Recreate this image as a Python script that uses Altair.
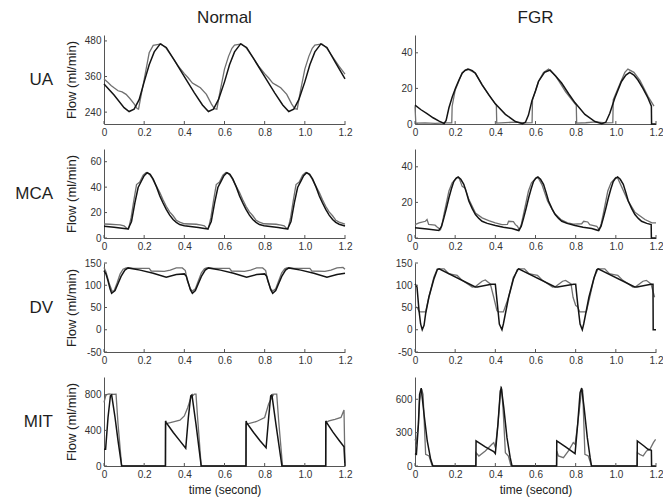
import altair as alt
import pandas as pd

FONT = "Liberation Sans"
BLACK = "#141414"
GRAY = "#707070"
AXIS = "#555555"
W, H = 241, 89

X_TICKS = [0, 0.2, 0.4, 0.6, 0.8, 1.0, 1.2]

# ---------------- UA ----------------
UA_N_BLACK_T = [0, 0.05, 0.10, 0.125, 0.15, 0.175, 0.20, 0.225, 0.25, 0.28, 0.31, 0.35, 0.40, 0.45, 0.49, 0.52,
                0.545, 0.57, 0.60, 0.625, 0.65, 0.68, 0.71, 0.75, 0.80, 0.85, 0.89, 0.92,
                0.945, 0.97, 1.00, 1.025, 1.05, 1.08, 1.11, 1.15, 1.20]
UA_N_BLACK_V = [335, 298, 255, 242, 250, 282, 342, 400, 443, 470, 458, 415, 360, 305, 264, 242,
                250, 282, 342, 400, 443, 470, 458, 415, 360, 305, 264, 242,
                250, 282, 342, 400, 443, 470, 458, 410, 352]
UA_N_GRAY_T = [0, 0.02, 0.035, 0.05, 0.07, 0.09, 0.11, 0.13, 0.15, 0.165, 0.172, 0.18, 0.20, 0.225, 0.245, 0.285,
               0.31, 0.34, 0.37, 0.40, 0.42, 0.44, 0.46, 0.48, 0.51, 0.535, 0.55, 0.562, 0.575, 0.60, 0.62, 0.637, 0.65, 0.685,
               0.71, 0.74, 0.77, 0.80, 0.82, 0.84, 0.86, 0.88, 0.91, 0.935, 0.95, 0.962, 0.975, 1.00, 1.02, 1.037, 1.05, 1.085,
               1.11, 1.14, 1.17, 1.20]
UA_N_GRAY_V = [352, 340, 330, 322, 312, 308, 300, 285, 268, 252, 250, 280, 350, 440, 465, 470,
               455, 425, 395, 370, 355, 338, 330, 322, 300, 267, 252, 250, 300, 385, 428, 455, 466, 470,
               455, 425, 395, 370, 355, 338, 330, 322, 300, 267, 252, 250, 300, 385, 428, 455, 466, 470,
               455, 425, 395, 368]

UA_F_BLACK_T = [0, 0.03, 0.06, 0.09, 0.12, 0.145, 0.155, 0.169, 0.185, 0.202, 0.22, 0.235, 0.25, 0.268, 0.285, 0.301,
                0.334, 0.367, 0.40, 0.45, 0.50, 0.535, 0.55, 0.565, 0.582, 0.60, 0.615, 0.645, 0.673, 0.70, 0.73,
                0.765, 0.797, 0.846, 0.896, 0.93, 0.95, 0.97, 0.995, 1.028, 1.05, 1.069, 1.09, 1.11, 1.135, 1.16,
                1.177, 1.178, 1.20]
UA_F_BLACK_V = [10.6, 8.0, 5.8, 3.5, 1.6, 0.3, 2.0, 9.1, 15.0, 20.2, 25.0, 28.5, 30.2, 30.8, 30.0, 28.5,
                22.0, 16.5, 11.3, 5.4, 1.4, 0.2, 1.0, 5.0, 13.0, 18.5, 23.9, 29.0, 30.3, 27.0, 23.0,
                17.0, 11.9, 5.4, 1.4, 0.2, 1.0, 6.0, 14.6, 23.9, 27.5, 29.0, 27.5, 24.7, 20.0, 14.6,
                10.0, 0.0, 0.0]
UA_F_GRAY_T = [0, 0.004, 0.05, 0.10, 0.15, 0.183, 0.185, 0.20, 0.235, 0.262, 0.30, 0.335, 0.37, 0.405, 0.407,
               0.45, 0.50, 0.55, 0.583, 0.585, 0.615, 0.64, 0.665, 0.70, 0.75, 0.803, 0.805, 0.85, 0.90, 0.95,
               0.985, 0.987, 1.02, 1.045, 1.06, 1.09, 1.12, 1.16, 1.19]
UA_F_GRAY_V = [10.0, 0.5, 0.6, 0.4, 0.6, 0.6, 10.0, 19.0, 28.8, 31.0, 28.5, 22.0, 16.0, 10.5, 0.5,
               0.8, 1.0, 0.6, 0.8, 13.5, 24.0, 29.0, 30.8, 27.0, 18.0, 10.5, 0.5, 0.7, 1.2, 0.6,
               0.8, 13.5, 22.5, 29.0, 30.8, 29.0, 24.5, 15.5, 10.0]

# ---------------- MCA ----------------
MCA_N_BLACK_T = [0, 0.05, 0.10, 0.12, 0.137, 0.154, 0.17, 0.187, 0.20, 0.215, 0.23, 0.245, 0.262, 0.278, 0.294, 0.31,
                 0.327, 0.344, 0.36, 0.377, 0.40, 0.43, 0.47, 0.50, 0.517,
                 0.534, 0.551, 0.567, 0.584, 0.597, 0.612, 0.627, 0.642, 0.659, 0.675, 0.691, 0.707, 0.724, 0.741,
                 0.757, 0.774, 0.797, 0.827, 0.867, 0.897, 0.914,
                 0.931, 0.948, 0.964, 0.981, 0.994, 1.009, 1.024, 1.039, 1.056, 1.072, 1.088, 1.104, 1.121, 1.138,
                 1.154, 1.171, 1.20]
MCA_N_BLACK_V = [9.3, 8.5, 7.5, 7.1, 13.0, 27.8, 39.7, 45.0, 49.0, 51.3, 50.0, 46.3, 40.0, 33.0, 27.5, 22.5,
                 18.0, 14.6, 12.3, 10.6, 9.7, 9.0, 8.2, 7.5, 7.1,
                 13.0, 27.8, 39.7, 45.0, 49.0, 51.3, 50.0, 46.3, 40.0, 33.0, 27.5, 22.5, 18.0, 14.6,
                 12.3, 10.6, 9.7, 9.0, 8.2, 7.5, 7.1,
                 13.0, 27.8, 39.7, 45.0, 49.0, 51.3, 50.0, 46.3, 40.0, 33.0, 27.5, 22.5, 18.0, 14.6,
                 12.3, 10.8, 9.4]
MCA_N_GRAY_T = [0, 0.03, 0.06, 0.08, 0.10, 0.115, 0.122, 0.135, 0.148, 0.162, 0.178, 0.195, 0.21, 0.225, 0.24, 0.26,
                0.278, 0.294, 0.31, 0.327, 0.344, 0.36, 0.377, 0.40, 0.43, 0.46, 0.485, 0.50, 0.512, 0.519,
                0.532, 0.545, 0.559, 0.575, 0.592, 0.607, 0.622, 0.637, 0.657, 0.675, 0.691, 0.707, 0.724, 0.741,
                0.757, 0.774, 0.797, 0.827, 0.857, 0.882, 0.897, 0.909, 0.916,
                0.929, 0.942, 0.956, 0.972, 0.989, 1.004, 1.019, 1.034, 1.054, 1.072, 1.088, 1.104, 1.121, 1.138,
                1.154, 1.171, 1.20]
MCA_N_GRAY_V = [11.0, 10.8, 10.5, 10.3, 9.5, 7.5, 7.0, 16.0, 29.0, 42.0, 44.0, 49.5, 51.6, 50.5, 47.0, 41.0,
                35.7, 30.0, 25.0, 20.5, 17.5, 14.0, 12.5, 11.2, 11.0, 10.8, 10.2, 9.5, 7.5, 7.0,
                16.0, 29.0, 42.0, 44.0, 49.5, 51.6, 50.5, 47.0, 41.0, 35.7, 30.0, 25.0, 20.5, 17.5,
                14.0, 12.5, 11.2, 11.0, 10.8, 10.2, 9.5, 7.5, 7.0,
                16.0, 29.0, 42.0, 44.0, 49.5, 51.6, 50.5, 47.0, 41.0, 35.7, 30.0, 25.0, 20.5, 17.5,
                14.0, 12.5, 11.0]

MCA_F_BLACK_T = [0, 0.06, 0.119, 0.132, 0.144, 0.157, 0.169, 0.181, 0.193, 0.204, 0.215, 0.228, 0.243, 0.256, 0.268,
                 0.285, 0.301, 0.318, 0.334, 0.36, 0.40, 0.44, 0.483, 0.516,
                 0.529, 0.541, 0.554, 0.566, 0.578, 0.59, 0.601, 0.612, 0.625, 0.64, 0.653, 0.665, 0.682, 0.698,
                 0.715, 0.731, 0.757, 0.797, 0.837, 0.88, 0.913,
                 0.926, 0.938, 0.951, 0.963, 0.975, 0.987, 0.998, 1.009, 1.022, 1.037, 1.05, 1.062, 1.079, 1.095,
                 1.112, 1.128, 1.154, 1.176, 1.177, 1.20]
MCA_F_BLACK_V = [5.7, 5.0, 4.2, 6.5, 11.3, 17.0, 22.6, 27.5, 31.7, 33.5, 34.3, 33.0, 30.2, 25.5, 20.8,
                 16.5, 13.2, 11.0, 9.4, 8.2, 7.0, 6.0, 5.3, 4.2,
                 6.5, 11.3, 17.0, 22.6, 27.5, 31.7, 33.5, 34.3, 33.0, 30.2, 25.5, 20.8, 16.5, 13.2,
                 11.0, 9.4, 8.2, 7.0, 6.0, 5.3, 4.2,
                 6.5, 11.3, 17.0, 22.6, 27.5, 31.7, 33.5, 34.3, 33.0, 30.2, 25.5, 20.8, 16.5, 13.2,
                 11.0, 9.4, 8.2, 7.6, 0.0, 0.0]
MCA_F_GRAY_T = [0, 0.02, 0.052, 0.06, 0.068, 0.10, 0.11, 0.127, 0.135, 0.144, 0.169, 0.185, 0.21, 0.22, 0.235, 0.25,
                0.268, 0.301, 0.334, 0.367, 0.40, 0.433, 0.46, 0.466, 0.49, 0.50, 0.51, 0.52,
                0.53, 0.54, 0.565, 0.58, 0.605, 0.615, 0.632, 0.66, 0.693, 0.726, 0.76, 0.79, 0.83, 0.84, 0.86,
                0.87, 0.905, 0.918,
                0.927, 0.937, 0.96, 0.976, 1.0, 1.01, 1.028, 1.06, 1.095, 1.145, 1.18, 1.20]
MCA_F_GRAY_V = [7.5, 8.5, 9.4, 10.4, 7.6, 7.2, 6.2, 4.7, 8.0, 13.2, 26.4, 31.0, 34.0, 33.5, 29.0, 28.0,
                21.7, 14.0, 11.3, 9.8, 8.5, 7.5, 7.6, 9.4, 9.2, 7.5, 6.6, 4.5,
                8.0, 13.2, 26.4, 31.0, 34.0, 33.5, 30.0, 20.8, 14.0, 10.4, 8.5, 7.8, 8.0, 9.4, 9.0,
                7.5, 6.6, 4.5,
                8.0, 13.2, 26.4, 31.0, 34.0, 33.5, 29.0, 21.0, 14.5, 10.4, 8.5, 8.5]

# ---------------- DV ----------------
DV_N_BLACK_T = [0, 0.01, 0.02, 0.03, 0.038, 0.055, 0.07, 0.085, 0.104, 0.12, 0.18, 0.245, 0.31, 0.36, 0.40,
                0.41, 0.42, 0.43, 0.44, 0.455, 0.47, 0.485, 0.504, 0.52, 0.58, 0.645, 0.71, 0.76, 0.80,
                0.81, 0.82, 0.83, 0.84, 0.855, 0.87, 0.885, 0.904, 0.92, 0.98, 1.045, 1.11, 1.16, 1.20]
DV_N_BLACK_V = [133, 125, 110, 92, 82, 88, 104, 120, 134, 139, 134, 127, 118, 124, 125.5,
                120, 105, 90, 82, 88, 104, 120, 134, 139, 134, 127, 118, 124, 125.5,
                120, 105, 90, 82, 88, 104, 120, 134, 139, 134, 127, 118, 124, 127]
DV_N_GRAY_T = [0, 0.01, 0.025, 0.04, 0.05, 0.065, 0.08, 0.095, 0.11, 0.15, 0.225, 0.235, 0.30, 0.33, 0.36, 0.39,
               0.405, 0.415, 0.43, 0.44, 0.455, 0.47, 0.485, 0.50, 0.51, 0.55, 0.625, 0.635, 0.70, 0.73, 0.76, 0.79,
               0.805, 0.815, 0.83, 0.84, 0.855, 0.87, 0.885, 0.90, 0.91, 0.95, 1.025, 1.035, 1.10, 1.13, 1.16, 1.19,
               1.20]
DV_N_GRAY_V = [140, 130, 105, 87, 87, 105, 125, 136, 139, 138, 138, 132, 131, 134, 139, 139,
               133, 110, 92, 87, 92, 110, 128, 137, 139, 138, 138, 132, 131, 134, 139, 139,
               133, 110, 92, 87, 92, 110, 128, 137, 139, 138, 138, 132, 131, 134, 139, 140,
               136]

DV_F_BLACK_T = [0, 0.01, 0.02, 0.028, 0.036, 0.045, 0.053, 0.069, 0.094, 0.111, 0.12, 0.30, 0.31, 0.38, 0.40,
                0.41, 0.42, 0.433, 0.44, 0.466, 0.49, 0.51, 0.516, 0.698, 0.71, 0.79, 0.80,
                0.81, 0.822, 0.833, 0.84, 0.866, 0.89, 0.905, 0.912, 1.094, 1.105, 1.175, 1.185, 1.186, 1.20]
DV_F_BLACK_V = [103, 96, 43, 13, 0, 10, 36, 73, 114, 135, 137, 96, 96, 102, 102,
                58, 13, 0, 13, 73, 114, 135, 137, 96, 96, 102, 102,
                58, 13, 0, 13, 73, 114, 135, 137, 96, 96, 102, 102, 0, 0]
DV_F_GRAY_T = [0, 0.01, 0.022, 0.053, 0.069, 0.094, 0.111, 0.145, 0.168, 0.19, 0.21, 0.235, 0.285, 0.301, 0.334,
               0.35, 0.375, 0.392, 0.408, 0.415, 0.44, 0.466, 0.49, 0.516, 0.545, 0.568, 0.59, 0.61, 0.635, 0.685,
               0.70, 0.735, 0.75, 0.777, 0.787, 0.80, 0.81, 0.82, 0.853, 0.87, 0.892, 0.912, 0.945, 0.968, 0.99,
               1.01, 1.035, 1.085, 1.10, 1.135, 1.152, 1.175, 1.193]
DV_F_GRAY_V = [52, 50, 40, 40, 73, 118, 137, 137, 126, 124, 122, 111, 96, 97, 109,
               112, 103, 73, 43, 40, 40, 73, 118, 137, 137, 126, 124, 122, 111, 96,
               97, 109, 111, 103, 73, 55, 51, 40, 40, 73, 118, 137, 137, 126, 124,
               122, 111, 96, 97, 109, 111, 103, 73]

# ---------------- MIT ----------------
MIT_N_BLACK_T = [0, 0.008, 0.02, 0.032, 0.038, 0.055, 0.07, 0.088, 0.306, 0.3065, 0.31, 0.345, 0.378, 0.407,
                 0.42, 0.432, 0.438, 0.458, 0.484, 0.707, 0.7075, 0.71, 0.745, 0.778, 0.807, 0.82, 0.83, 0.836,
                 0.856, 0.886, 1.104, 1.1045, 1.108, 1.14, 1.17, 1.195, 1.20]
MIT_N_BLACK_V = [188, 188, 545, 789, 800, 545, 282, 0, 0, 507, 488, 376, 282, 199,
                 545, 789, 800, 470, 0, 0, 507, 488, 376, 282, 205, 545, 789, 800,
                 470, 0, 0, 507, 490, 380, 290, 215, 0]
MIT_N_GRAY_T = [0, 0.01, 0.025, 0.04, 0.06, 0.07, 0.088, 0.306, 0.3065, 0.315, 0.345, 0.378, 0.40, 0.417, 0.433,
                0.45, 0.458, 0.466, 0.484, 0.707, 0.7075, 0.72, 0.76, 0.80, 0.82, 0.845, 0.86, 0.87, 0.889,
                1.104, 1.1045, 1.12, 1.15, 1.18, 1.195, 1.20]
MIT_N_GRAY_V = [715, 800, 810, 805, 808, 470, 0, 0, 470, 480, 496, 515, 563, 657, 770,
                808, 808, 545, 0, 0, 470, 475, 500, 545, 700, 808, 808, 500, 0,
                0, 488, 507, 525, 545, 630, 0]

MIT_F_BLACK_T = [0, 0.007, 0.017, 0.023, 0.031, 0.045, 0.061, 0.078, 0.089, 0.303, 0.304, 0.35, 0.392, 0.40,
                 0.413, 0.425, 0.43, 0.442, 0.458, 0.474, 0.483, 0.705, 0.706, 0.75, 0.79, 0.797,
                 0.81, 0.822, 0.83, 0.842, 0.858, 0.872, 0.879, 1.106, 1.107, 1.14, 1.16, 1.177, 1.178, 1.20]
MIT_F_BLACK_V = [111, 105, 375, 645, 700, 465, 225, 60, 0, 0, 225, 171, 129, 111,
                 375, 675, 696, 525, 255, 75, 0, 0, 225, 171, 120, 111,
                 375, 660, 700, 525, 255, 75, 0, 0, 225, 180, 150, 141, 0, 0]
MIT_F_GRAY_T = [0, 0.007, 0.017, 0.023, 0.033, 0.04, 0.053, 0.07, 0.086, 0.303, 0.304, 0.318, 0.35, 0.383, 0.392,
                0.40, 0.413, 0.427, 0.432, 0.44, 0.45, 0.465, 0.478, 0.705, 0.706, 0.714, 0.739, 0.764, 0.788,
                0.797, 0.81, 0.83, 0.835, 0.846, 0.863, 0.879, 1.106, 1.107, 1.119, 1.136, 1.153, 1.17, 1.187,
                1.198]
MIT_F_GRAY_V = [240, 210, 375, 585, 690, 645, 105, 90, 0, 0, 120, 90, 135, 195, 210,
                165, 375, 705, 690, 465, 120, 90, 0, 0, 135, 90, 75, 135, 210,
                195, 375, 690, 680, 105, 90, 0, 0, 120, 105, 90, 135, 150, 210,
                240]


def frame(ts, vs):
    return pd.DataFrame({"t": ts, "v": vs, "i": list(range(len(ts)))})


def panel(bt, bv, gt, gv, domain, yticks, ytitle=False, xtitle=False, row_label=None, col_title=None):
    x_enc = alt.X(
        "t:Q",
        scale=alt.Scale(domain=[0, 1.2], nice=False, zero=False),
        axis=alt.Axis(
            values=X_TICKS,
            labelExpr="datum.value == 0 ? '0' : format(datum.value, '.1f')",
            title="time (second)" if xtitle else None,
            titlePadding=5,
            titleFontSize=12,
        ),
    )
    y_enc = alt.Y(
        "v:Q",
        scale=alt.Scale(domain=domain, nice=False, zero=False),
        axis=alt.Axis(
            values=yticks,
            labelExpr="'' + datum.value",
            title="Flow (ml/min)" if ytitle else None,
            titleX=-26,
            titleY=H / 2,
            titleFontSize=13,
        ),
    )
    layers = [
        alt.Chart(frame(gt, gv)).mark_line(color=GRAY, strokeWidth=1.3).encode(x=x_enc, y=y_enc, order="i:Q"),
        alt.Chart(frame(bt, bv)).mark_line(color=BLACK, strokeWidth=1.5).encode(x=x_enc, y=y_enc, order="i:Q"),
        alt.Chart(pd.DataFrame({"t": X_TICKS})).mark_rule(color=AXIS, strokeWidth=1).encode(
            x=x_enc, y=alt.value(H), y2=alt.value(H - 3)),
        alt.Chart(pd.DataFrame({"v": yticks})).mark_rule(color=AXIS, strokeWidth=1).encode(
            y=y_enc, x=alt.value(0), x2=alt.value(3)),
    ]
    if row_label:
        layers.append(
            alt.Chart(pd.DataFrame({"s": [row_label]})).mark_text(
                align="right", baseline="middle", fontSize=17, font=FONT, color="#1e1e1e"
            ).encode(text="s:N", x=alt.value(-51), y=alt.value(H / 2))
        )
    if col_title:
        layers.append(
            alt.Chart(pd.DataFrame({"s": [col_title]})).mark_text(
                align="center", baseline="middle", fontSize=17, font=FONT, color="#1e1e1e"
            ).encode(text="s:N", x=alt.value(W / 2), y=alt.value(-17))
        )
    return alt.layer(*layers).properties(width=W, height=H)


panels = [
    panel(UA_N_BLACK_T, UA_N_BLACK_V, UA_N_GRAY_T, UA_N_GRAY_V, [200, 500], [240, 360, 480],
          ytitle=True, row_label="UA", col_title="Normal"),
    panel(UA_F_BLACK_T, UA_F_BLACK_V, UA_F_GRAY_T, UA_F_GRAY_V, [0, 50], [0, 20, 40], col_title="FGR"),
    panel(MCA_N_BLACK_T, MCA_N_BLACK_V, MCA_N_GRAY_T, MCA_N_GRAY_V, [0, 70], [0, 20, 40, 60],
          ytitle=True, row_label="MCA"),
    panel(MCA_F_BLACK_T, MCA_F_BLACK_V, MCA_F_GRAY_T, MCA_F_GRAY_V, [0, 50], [0, 20, 40]),
    panel(DV_N_BLACK_T, DV_N_BLACK_V, DV_N_GRAY_T, DV_N_GRAY_V, [-50, 150], [-50, 0, 50, 100, 150],
          ytitle=True, row_label="DV"),
    panel(DV_F_BLACK_T, DV_F_BLACK_V, DV_F_GRAY_T, DV_F_GRAY_V, [-50, 150], [-50, 0, 50, 100, 150]),
    panel(MIT_N_BLACK_T, MIT_N_BLACK_V, MIT_N_GRAY_T, MIT_N_GRAY_V, [0, 1000], [0, 400, 800],
          ytitle=True, xtitle=True, row_label="MIT"),
    panel(MIT_F_BLACK_T, MIT_F_BLACK_V, MIT_F_GRAY_T, MIT_F_GRAY_V, [0, 800], [0, 300, 600], xtitle=True),
]

chart = alt.concat(*panels, columns=2, spacing={"row": 25, "column": 70}, bounds="flush").properties(
    padding={"left": 7, "top": 1, "right": 0, "bottom": 6}
).configure_view(strokeOpacity=0).configure_axis(
    labelFont=FONT, labelFontSize=10, labelColor="#333333", titleFont=FONT, titleColor="#222222",
    titleFontWeight="normal", domainColor=AXIS, domainWidth=1, ticks=False, grid=False,
    labelPadding=3, labelFlush=False, labelOverlap=False,
)

chart.save("out.html", embed_options={"renderer": "svg", "actions": False})
